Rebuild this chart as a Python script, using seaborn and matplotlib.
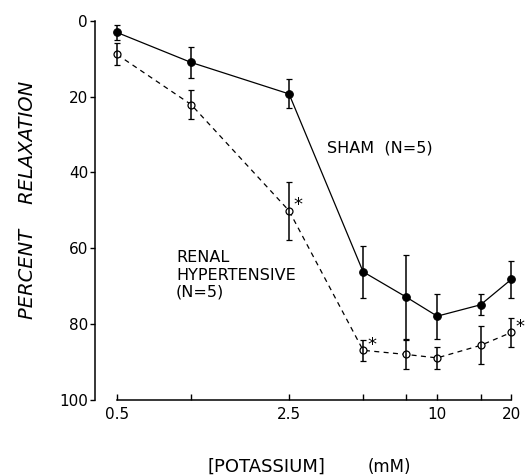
import matplotlib
matplotlib.use('Agg')
import matplotlib.pyplot as plt
import seaborn as sns
from matplotlib.ticker import FixedLocator, FixedFormatter, NullLocator

# potassium concentration (mM)
conc = [0.5, 1, 2.5, 5, 7.5, 10, 15, 20]

# percent relaxation, mean and error
sham = [3.1, 11.0, 19.3, 66.2, 72.9, 77.9, 74.9, 68.2]
sham_err = [1.9, 4.0, 3.8, 6.8, 11.0, 5.9, 2.8, 4.8]
renal = [8.9, 22.1, 50.1, 86.9, 88.0, 88.9, 85.6, 82.2]
renal_err = [2.9, 3.7, 7.7, 2.8, 3.8, 3.0, 5.0, 3.7]

# renal points marked significant
star_conc = [2.5, 5, 20]
star_vals = [50.1, 86.9, 82.2]

xticks = [0.5, 1, 2.5, 5, 7.5, 10, 15, 20]
xtick_labels = ['0.5', '', '2.5', '', '', '10', '', '20']
yticks = [0, 20, 40, 60, 80, 100]

sns.set_style('ticks')
plt.rcParams['font.family'] = ['DejaVu Sans']
for key in ['text.color', 'axes.labelcolor', 'xtick.color', 'ytick.color', 'axes.edgecolor']:
    plt.rcParams[key] = 'black'

W, H = 528, 476
fig = plt.figure(figsize=(W / 100, H / 100), dpi=100)
ax = fig.add_axes([95 / W, 1 - 400 / H, 421 / W, (400 - 20.7) / H])

ax.set_xscale('log')

sns.lineplot(x=conc, y=sham, ax=ax, color='black', linewidth=0.9,
             marker='o', markersize=5.5, markerfacecolor='black',
             markeredgecolor='black', errorbar=None, clip_on=False)
sns.lineplot(x=conc, y=renal, ax=ax, color='black', linewidth=0.9,
             linestyle=(0, (4, 3.5)), marker='o', markersize=5,
             markerfacecolor='white', markeredgecolor='black',
             markeredgewidth=0.9, errorbar=None, clip_on=False)

ax.errorbar(conc, sham, yerr=sham_err, fmt='none', ecolor='black',
            elinewidth=1.1, capsize=2.3, capthick=0.9, clip_on=False)
ax.errorbar(conc, renal, yerr=renal_err, fmt='none', ecolor='black',
            elinewidth=1.1, capsize=2.3, capthick=0.9, clip_on=False)

for xc, yv in zip(star_conc, star_vals):
    ax.annotate('*', (xc, yv), xytext=(3, 4), textcoords='offset points',
                fontsize=13, ha='left', va='center')

ax.set_xlim(0.407, 20.9)
ax.set_ylim(100, 0)

ax.xaxis.set_major_locator(FixedLocator(xticks))
ax.xaxis.set_major_formatter(FixedFormatter(xtick_labels))
ax.xaxis.set_minor_locator(NullLocator())
ax.set_yticks(yticks)

ax.tick_params(axis='x', direction='in', length=4, width=1, labelsize=11, pad=5)
ax.tick_params(axis='y', direction='out', length=3.5, width=1, labelsize=11, pad=1.5)

sns.despine(ax=ax)
ax.spines['bottom'].set_bounds(0.5, 20)
ax.spines['left'].set_bounds(0, 100)
ax.spines['bottom'].set_linewidth(1.1)
ax.spines['left'].set_linewidth(1.1)

fig.text(327 / W, 1 - 148 / H, 'SHAM  (N=5)', fontsize=11.5,
         ha='left', va='center')
fig.text(176 / W, 1 - 275 / H, 'RENAL\nHYPERTENSIVE\n(N=5)', fontsize=11.5,
         ha='left', va='center', linespacing=1.2)

fig.text(28 / W, 1 - 200 / H, 'PERCENT    RELAXATION', rotation=90,
         style='italic', fontsize=14, ha='center', va='center')
fig.text(266 / W, 1 - 467 / H, '[POTASSIUM]', fontsize=13,
         ha='center', va='center')
fig.text(389 / W, 1 - 467 / H, '(mM)', fontsize=12,
         ha='center', va='center')

fig.savefig('out.png', dpi=100)
